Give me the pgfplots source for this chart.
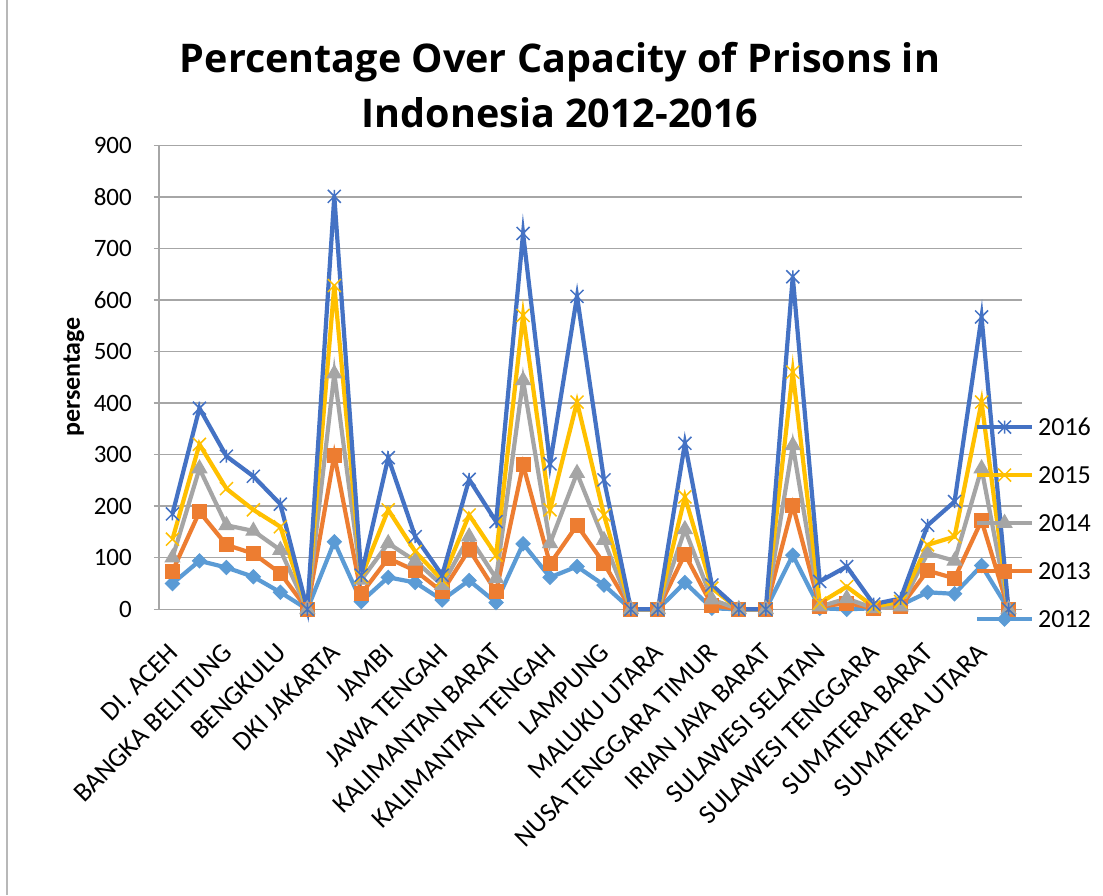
\documentclass[border=0pt]{standalone}
\usepackage{pgfplots}
\pgfplotsset{compat=1.18}
\usepackage{pgfplotstable}
\usepackage{fontspec}
\setmainfont{Carlito}
\newfontfamily\titlefont{Open Sans}
\definecolor{c16}{HTML}{4472C4}
\definecolor{c15}{HTML}{FFC000}
\definecolor{c14}{HTML}{A5A5A5}
\definecolor{c13}{HTML}{ED7D31}
\definecolor{c12}{HTML}{5B9BD5}
\definecolor{gridc}{HTML}{A6A6A6}
\pgfdeclareplotmark{xstar}{%
  \pgfpathmoveto{\pgfqpoint{-\pgfplotmarksize}{-\pgfplotmarksize}}%
  \pgfpathlineto{\pgfqpoint{\pgfplotmarksize}{\pgfplotmarksize}}%
  \pgfpathmoveto{\pgfqpoint{-\pgfplotmarksize}{\pgfplotmarksize}}%
  \pgfpathlineto{\pgfqpoint{\pgfplotmarksize}{-\pgfplotmarksize}}%
  \pgfpathmoveto{\pgfqpoint{0pt}{-\pgfplotmarksize}}%
  \pgfpathlineto{\pgfqpoint{0pt}{\pgfplotmarksize}}%
  \pgfusepathqstroke}
\pgfdeclareplotmark{xcross}{%
  \pgfpathmoveto{\pgfqpoint{-\pgfplotmarksize}{-\pgfplotmarksize}}%
  \pgfpathlineto{\pgfqpoint{\pgfplotmarksize}{\pgfplotmarksize}}%
  \pgfpathmoveto{\pgfqpoint{-\pgfplotmarksize}{\pgfplotmarksize}}%
  \pgfpathlineto{\pgfqpoint{\pgfplotmarksize}{-\pgfplotmarksize}}%
  \pgfusepathqstroke}
\pgfplotstableread{
x  a12 a13 a14 a15 a16
0  50  74  100 136 185
1  94  189 273 320 390
2  81  125 163 234 297
3  63  108 152 193 258
4  33  70  115 160 204
5  0   0   0   0   0
6  131 299 457 628 801
7  15  30  57  63  66
8  62  99  128 193 294
9  52  75  94  112 141
10 18  34  47  57  66
11 56  116 141 183 252
12 13  34  60  105 170
13 127 280 444 570 729
14 62  88  128 193 282
15 83  163 264 402 607
16 47  89  134 183 251
17 0   0   0   0   0
18 0   0   0   0   0
19 52  107 155 218 322
20 2   8   19  41  47
21 0   0   0   0   0
22 0   0   0   0   0
23 105 202 318 460 645
24 2   5   5   12  54
25 0   12  21  44  83
26 2   2   2   5   10
27 8   5   5   15  21
28 33  75  109 125 163
29 30  60  94  141 209
30 85  172 273 402 567
31 0   0   0   0   0
}\data
\begin{document}
\begin{tikzpicture}
\useasboundingbox (0,0) rectangle (1103pt,895pt);
\fill[white] (0,0) rectangle (1103pt,895pt);
\draw[gridc!80, line width=1.5pt] (7pt,0) -- (7pt,895pt);
\node[anchor=base, font=\titlefont\bfseries\fontsize{39.5}{46}\selectfont] at (560pt,822pt) {Percentage Over Capacity of Prisons in};
\node[anchor=base, font=\titlefont\bfseries\fontsize{39.5}{46}\selectfont] at (560pt,767pt) {Indonesia 2012-2016};
\node[rotate=90, font=\bfseries\fontsize{26}{30}\selectfont] at (74pt,518pt) {persentage};
\begin{axis}[
  at={(159pt,285.7pt)}, anchor=south west,
  scale only axis, width=863pt, height=464pt,
  xmin=-0.5, xmax=31.5, ymin=0, ymax=900,
  ytick={0,100,...,900},
  xtick={0,2,...,30},
  xticklabels={DI. ACEH, BANGKA BELITUNG, BENGKULU, DKI JAKARTA, JAMBI, JAWA TENGAH, KALIMANTAN BARAT, KALIMANTAN TENGAH, LAMPUNG, MALUKU UTARA, NUSA TENGGARA TIMUR, IRIAN JAYA BARAT, SULAWESI SELATAN, SULAWESI TENGGARA, SUMATERA BARAT, SUMATERA UTARA},
  axis x line*=bottom, axis y line*=left,
  axis line style={gridc, line width=1.5pt},
  ymajorgrids, grid style={gridc, line width=1.5pt},
  tick align=outside, major tick length=5pt,
  xtick style={draw=none},
  ytick style={gridc, line width=1.5pt},
  /pgf/number format/assume math mode=true,
  yticklabel style={font=\fontsize{25}{30}\selectfont, anchor=east, inner sep=0pt, xshift=-22pt},
  xticklabel shift=0pt,
  xticklabel style={font=\fontsize{27}{32}\selectfont, inner sep=0pt, xshift=1pt, yshift=-34pt, rotate=45, anchor=east},
  clip=false,
  every axis plot/.append style={line width=4.2pt},
  legend style={at={(axis description cs:0.9455,0.411)}, anchor=north west, draw=none, fill=none,
    inner sep=0pt, outer sep=0pt, row sep=31pt,
    font=\fontsize{26}{31}\selectfont,
    nodes={inner sep=0pt, text height=17pt, text depth=0pt},
    /tikz/every odd column/.append style={column sep=4pt}},
  legend cell align=left,
  legend image code/.code={\draw[mark repeat=2,mark phase=2] plot coordinates {(0pt,0pt)(27.5pt,0pt)(55pt,0pt)};},
  reverse legend,
]
\addplot[c12, mark=square*, mark size=5pt, mark options={rotate=45, line width=1pt, fill=c12}] table[x=x,y=a12] {\data};
\addplot[c13, mark=square*, mark size=7pt, mark options={line width=1pt, fill=c13}] table[x=x,y=a13] {\data};
\addplot[c14, mark=triangle*, mark size=8.5pt, mark options={line width=1pt, fill=c14}] table[x=x,y=a14] {\data};
\addplot[c15, mark=xcross, mark size=6.5pt, mark options={line width=1.5pt}] table[x=x,y=a15] {\data};
\addplot[c16, mark=xstar, mark size=6.5pt, mark options={line width=1.5pt}] table[x=x,y=a16] {\data};
\legend{2012,2013,2014,2015,2016}
\end{axis}
\end{tikzpicture}
\end{document}
